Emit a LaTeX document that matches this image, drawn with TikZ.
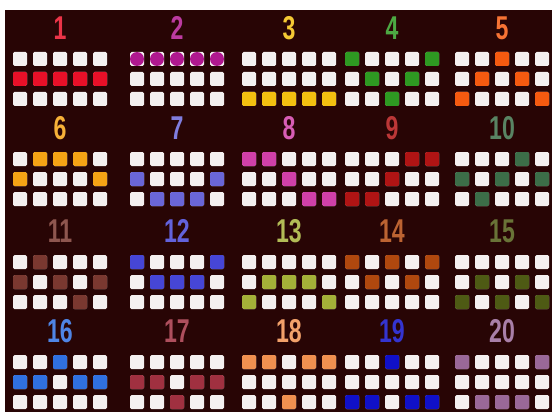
\documentclass[tikz,border=0pt]{standalone}
\usepackage{fontspec}
\setmainfont{Liberation Sans}
\usepackage{xcolor}
\usepackage{tikz}

\definecolor{bgdark}{HTML}{280505}
\definecolor{tilewhite}{HTML}{F4F0F0}
\definecolor{pl1}{HTML}{E81028}
\definecolor{pl2}{HTML}{B01890}
\definecolor{pl3}{HTML}{F2C010}
\definecolor{pl4}{HTML}{2E9A22}
\definecolor{pl5}{HTML}{F55A10}
\definecolor{pl6}{HTML}{F5A315}
\definecolor{pl7}{HTML}{6A66D8}
\definecolor{pl8}{HTML}{D040A8}
\definecolor{pl9}{HTML}{B01414}
\definecolor{pl10}{HTML}{3C6E48}
\definecolor{pl11}{HTML}{7A3830}
\definecolor{pl12}{HTML}{4646D6}
\definecolor{pl13}{HTML}{A4B038}
\definecolor{pl14}{HTML}{B0480E}
\definecolor{pl15}{HTML}{4E5A14}
\definecolor{pl16}{HTML}{3070E0}
\definecolor{pl17}{HTML}{A03040}
\definecolor{pl18}{HTML}{F09050}
\definecolor{pl19}{HTML}{1010C8}
\definecolor{pl20}{HTML}{9A6898}

\begin{document}
\begin{tikzpicture}[
    x=1pt, y=-1pt,
    tile/.style={fill=tilewhite},
    numlabel/.style={font=\bfseries\fontsize{33}{33}\selectfont, xscale=0.7, inner sep=0pt}
]
\useasboundingbox (0,0) rectangle (552,412);
\fill[white] (0,0) rectangle (552,412);
\fill[bgdark] (5,10) rectangle (552,412);

% paylines: first tile x/y, number, colour, corner radius, lit tiles (column/row)
\foreach \cx/\cy/\num/\col/\rc/\hits in {
    13/52/1/pl1/1.5/{0/1,1/1,2/1,3/1,4/1},
    130/52/2/pl2/7/{0/0,1/0,2/0,3/0,4/0},
    242/52/3/pl3/1.5/{0/2,1/2,2/2,3/2,4/2},
    345/52/4/pl4/1.5/{0/0,4/0,1/1,3/1,2/2},
    455/52/5/pl5/1.5/{2/0,1/1,3/1,0/2,4/2},
    13/152/6/pl6/1.5/{1/0,2/0,3/0,0/1,4/1},
    130/152/7/pl7/1.5/{0/1,4/1,1/2,2/2,3/2},
    242/152/8/pl8/1.5/{0/0,1/0,2/1,3/2,4/2},
    345/152/9/pl9/1.5/{3/0,4/0,2/1,0/2,1/2},
    455/152/10/pl10/1.5/{3/0,0/1,2/1,4/1,1/2},
    13/255/11/pl11/1.5/{1/0,0/1,2/1,4/1,3/2},
    130/255/12/pl12/1.5/{0/0,4/0,1/1,2/1,3/1},
    242/255/13/pl13/1.5/{1/1,2/1,3/1,0/2,4/2},
    345/255/14/pl14/1.5/{0/0,2/0,4/0,1/1,3/1},
    455/255/15/pl15/1.5/{1/1,3/1,0/2,2/2,4/2},
    13/355/16/pl16/1.5/{2/0,0/1,1/1,3/1,4/1},
    130/355/17/pl17/1.5/{0/1,1/1,3/1,4/1,2/2},
    242/355/18/pl18/1.5/{0/0,1/0,3/0,4/0,2/2},
    345/355/19/pl19/1.5/{2/0,0/2,1/2,3/2,4/2},
    455/355/20/pl20/1.5/{0/0,4/0,1/2,2/2,3/2}}{
    \node[numlabel, text=\col!85!white] (n\num) at (\cx+47,\cy-24) {\num};
    \foreach \i in {0,...,4}
        \foreach \j in {0,1,2}
            \fill[tile, rounded corners=1.5pt] (\cx+20*\i,\cy+20*\j) rectangle ++(14,14);
    \foreach \i/\j in \hits
        \fill[\col, rounded corners=\rc pt] (\cx+20*\i,\cy+20*\j) rectangle ++(14,14);
}

\end{tikzpicture}
\end{document}
